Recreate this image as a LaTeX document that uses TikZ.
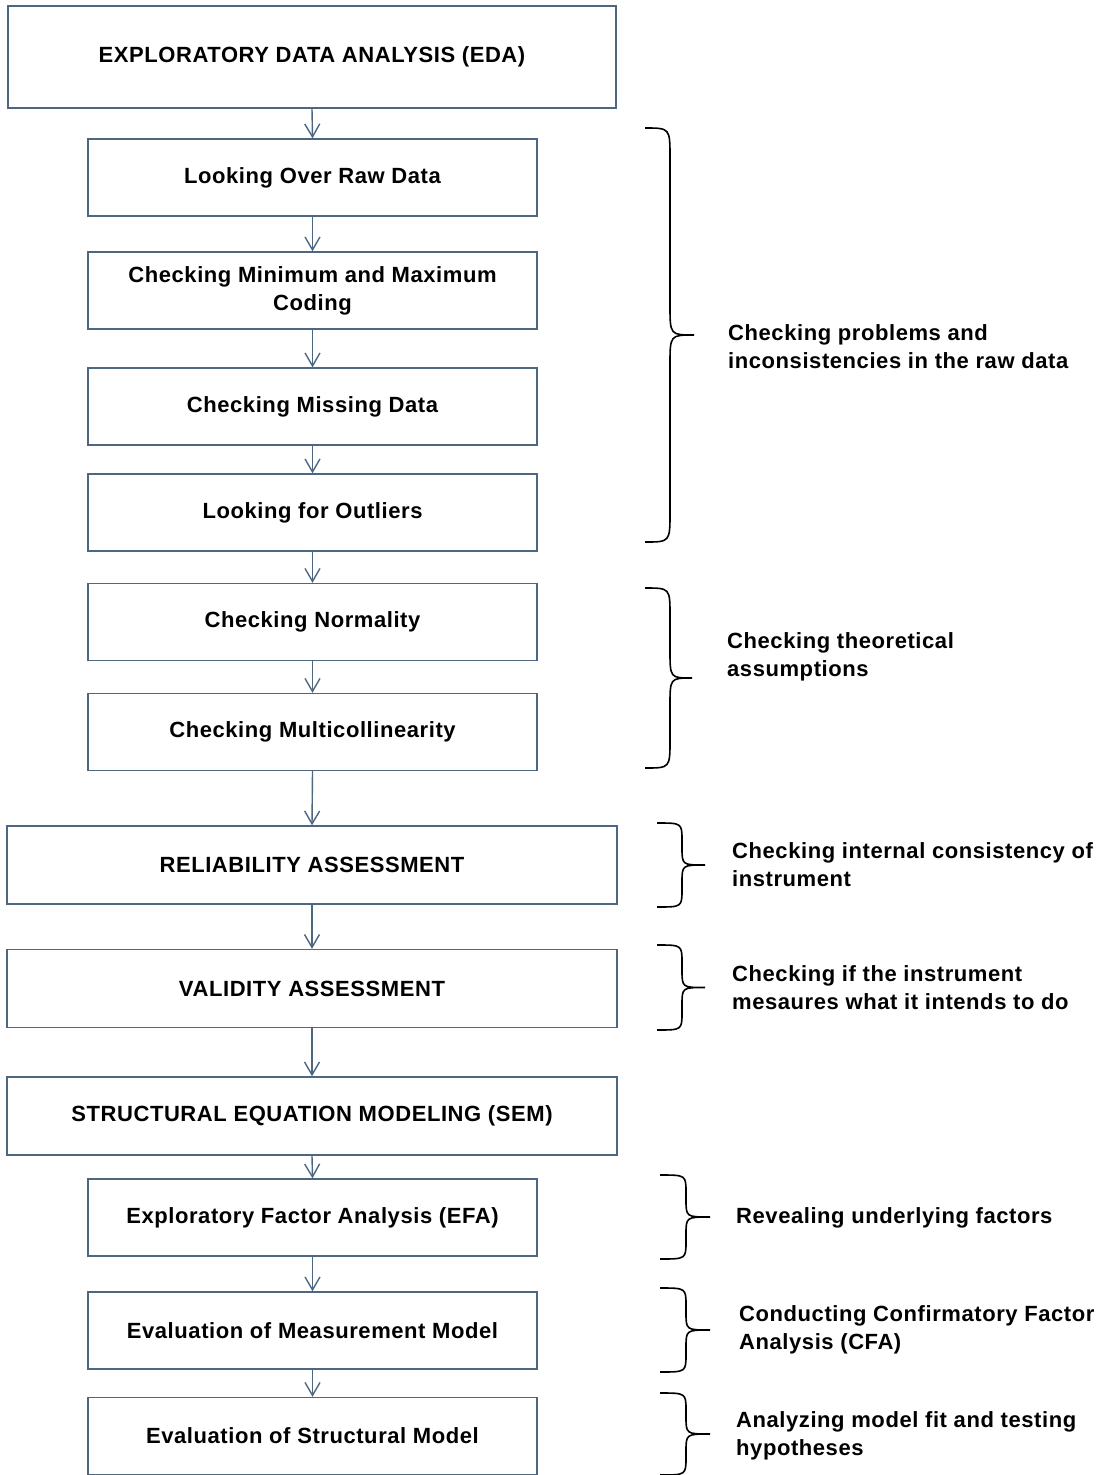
\documentclass[tikz,border=0pt]{standalone}
\usepackage{fontspec}
\setmainfont{Liberation Sans}[LetterSpace=2.6]
\usetikzlibrary{arrows.meta}
\definecolor{boxc}{HTML}{4D6781}
\newcommand{\dbrace}[6]{%
  \pgfmathsetmacro\ym{(#4+#5)/2}%
  \draw[bracestyle] (#1,#4) .. controls (#2,#4) .. (#2,#4+#6) -- (#2,\ym-#6)
    .. controls (#2,\ym) .. (#3,\ym) .. controls (#2,\ym) .. (#2,\ym+#6)
    -- (#2,#5-#6) .. controls (#2,#5) .. (#1,#5);}
\begin{document}
\begin{tikzpicture}[x=1pt,y=-1pt,
  box/.style={draw=boxc,line width=1.4pt,inner sep=0pt,align=center,
    font=\bfseries\fontsize{22}{28}\selectfont},
  wide/.style={box,minimum width=610pt,minimum height=78pt},
  narrow/.style={box,minimum width=449pt,minimum height=77pt},
  arr/.style={draw=boxc,line width=1.4pt,-{Straight Barb[length=13pt,width=15pt]}},
  bracestyle/.style={draw=black,line width=1.6pt},
  note/.style={anchor=west,inner sep=0pt,align=left,
    font=\bfseries\fontsize{22}{28}\selectfont}]
\useasboundingbox (0,0) rectangle (1109,1475);
\node[box,minimum width=608pt,minimum height=102pt] (eda) at (312,57) {EXPLORATORY DATA ANALYSIS (EDA)};
\node[narrow] (raw) at (312.5,177.5) {Looking Over Raw Data};
\node[narrow] (minmax) at (312.5,290.5) {Checking Minimum and Maximum\\Coding};
\node[narrow] (missing) at (312.5,406.5) {Checking Missing Data};
\node[narrow] (outl) at (312.5,512.5) {Looking for Outliers};
\node[narrow] (norm) at (312.5,622) {Checking Normality};
\node[narrow] (multi) at (312.5,732) {Checking Multicollinearity};
\node[wide] (rel) at (312,865) {RELIABILITY ASSESSMENT};
\node[wide] (val) at (312,988.5) {VALIDITY ASSESSMENT};
\node[wide] (sem) at (312,1116) {STRUCTURAL EQUATION MODELING (SEM)};
\node[narrow] (efa) at (312.5,1217.5) {Exploratory Factor Analysis (EFA)};
\node[narrow] (meas) at (312.5,1330.5) {Evaluation of Measurement Model};
\node[narrow] (struct) at (312.5,1436) {Evaluation of Structural Model};
\foreach \a/\b in {eda/raw,raw/minmax,minmax/missing,missing/outl,outl/norm,norm/multi,multi/rel,rel/val,val/sem,sem/efa,efa/meas,meas/struct}
  \draw[arr] (\a.south) -- (\b.north);
\dbrace{645}{670}{694}{128}{542}{30}
\dbrace{645}{670}{692}{588}{768}{28}
\dbrace{657}{682}{705}{823}{907}{18}
\dbrace{657}{682}{705}{945}{1030}{18}
\dbrace{660}{686}{710}{1175}{1259}{18}
\dbrace{660}{686}{710}{1288}{1372}{18}
\dbrace{660}{686}{710}{1393}{1475}{18}
\node[note] (n1) at (728,347) {Checking problems and\\inconsistencies in the raw data};
\node[note] (n2) at (727,657) {Checking theoretical\\assumptions};
\node[note] (n3) at (732,865) {Checking internal consistency of\\instrument};
\node[note] (n4) at (732,988) {Checking if the instrument\\mesaures what it intends to do};
\node[note] (n5) at (736,1218) {Revealing underlying factors};
\node[note] (n6) at (739,1330) {Conducting Confirmatory Factor\\Analysis (CFA)};
\node[note] (n7) at (736,1436) {Analyzing model fit and testing\\hypotheses};
\end{tikzpicture}
\end{document}
